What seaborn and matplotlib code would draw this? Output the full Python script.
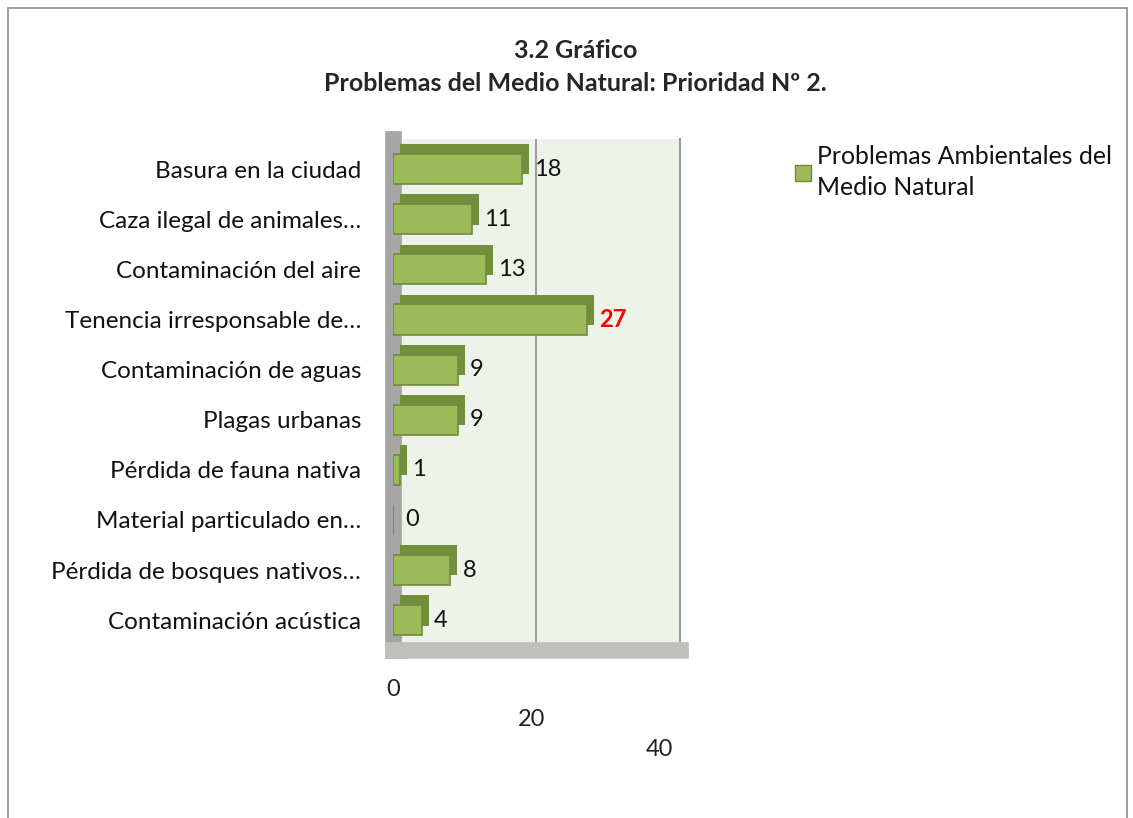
"""
3.2 Grafico - Problemas del Medio Natural: Prioridad N 2.
Horizontal bar chart rebuilt with seaborn, saved to out.png.
"""

import matplotlib.pyplot as plt
import matplotlib.patheffects as pe
import matplotlib.transforms as mtransforms
from matplotlib.patches import Rectangle
from matplotlib.lines import Line2D
import pandas as pd
import seaborn as sns

categories = [
    "Basura en la ciudad",
    "Caza ilegal de animales…",
    "Contaminación del aire",
    "Tenencia irresponsable de…",
    "Contaminación de aguas",
    "Plagas urbanas",
    "Pérdida de fauna nativa",
    "Material particulado en…",
    "Pérdida de bosques nativos…",
    "Contaminación acústica",
]
values = [18, 11, 13, 27, 9, 9, 1, 0, 8, 4]
x_ticks = [0, 20, 40]
series_name = "Problemas Ambientales del\nMedio Natural"

bar_face = "#9BBB59"
bar_edge = "#71893F"
bar_top = "#71903B"

df = pd.DataFrame({"problema": categories, "valor": values})

sns.set_style("white")
plt.rcParams["font.family"] = ["Lato", "DejaVu Sans"]

fig = plt.figure(figsize=(11.33, 8.18), dpi=100)
ax = fig.add_axes([0.347, 0.205, 0.253, 0.625])

sns.barplot(data=df, x="valor", y="problema", orient="h", ax=ax,
            color=bar_face, edgecolor=bar_edge, linewidth=1.2, width=0.6,
            saturation=1)

# fake the 3D block look with a darker offset shadow
for patch in ax.patches:
    patch.set_zorder(3)
    patch.set_path_effects([
        pe.SimplePatchShadow(offset=(5, 7), shadow_rgbFace=bar_top, alpha=1.0),
        pe.Normal(),
    ])

ax.set_xlim(0, 40)
ax.set_ylim(9.6, -0.6)
ax.set_facecolor("#EEF3EA")
ax.set_xticks(x_ticks)
ax.set_xticklabels([str(t) for t in x_ticks], fontsize=17, color="#222222")
ax.tick_params(axis="y", labelsize=17.5, colors="#111111", length=7, width=1,
               direction="out", pad=16)
ax.tick_params(axis="x", length=7, width=1, pad=14)
ax.set_xlabel("")
ax.set_ylabel("")
ax.axvline(20, color="#8C8C8C", linewidth=1.2)

# stagger x tick labels like the perspective view
shifts = [(0, 0), (-5, -30), (-20, -60)]
for lbl, (dx, dy) in zip(ax.get_xticklabels(), shifts):
    off = mtransforms.ScaledTranslation(dx / 100, dy / 100, fig.dpi_scale_trans)
    lbl.set_transform(lbl.get_transform() + off)

ax.spines["top"].set_visible(False)
ax.spines["right"].set_color("#9A9A9A")
ax.spines["right"].set_linewidth(1.5)
ax.spines["left"].set_color("#A6A6A6")
ax.spines["left"].set_linewidth(12)
ax.spines["bottom"].set_color("#BFC0BB")
ax.spines["bottom"].set_linewidth(12)

# value labels
for i, v in enumerate(values):
    if v == max(values):
        ax.text(v + 1.7, i, str(v), va="center", ha="left", fontsize=17,
                color="#FF0000", fontweight="bold", zorder=4)
    else:
        ax.text(v + 1.7, i, str(v), va="center", ha="left", fontsize=17,
                color="#111111", zorder=4)

fig.text(0.508, 0.938, "3.2 Gráfico", ha="center", va="center",
         fontsize=18, fontweight="bold")
fig.text(0.508, 0.898, "Problemas del Medio Natural: Prioridad Nº 2.",
         ha="center", va="center", fontsize=18, fontweight="bold")

handle = Line2D([], [], marker="s", linestyle="none", markersize=12,
                markerfacecolor=bar_face, markeredgecolor=bar_edge)
leg = fig.legend([handle], [series_name], loc="upper left",
                 bbox_to_anchor=(0.692, 0.835), frameon=False, fontsize=17.8,
                 handletextpad=0.25, borderaxespad=0, handlelength=0.7)
for t in leg.get_texts():
    t.set_linespacing(1.45)
    t.set_color("#111111")

fig.patches.append(Rectangle((0.007, -0.05), 0.988, 1.04,
                             transform=fig.transFigure, fill=False,
                             edgecolor="#8C8C8C", linewidth=1.2))

fig.savefig("out.png", dpi=100)
